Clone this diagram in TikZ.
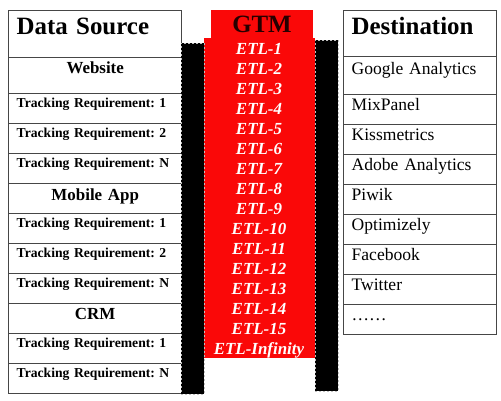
\documentclass[tikz,border=0pt]{standalone}
\usepackage{fontspec}
\setmainfont{Liberation Serif}
\frenchspacing
\usetikzlibrary{matrix,positioning}
\definecolor{gtmred}{RGB}{250,8,8}
\definecolor{gridgray}{RGB}{70,70,70}
\tikzset{table matrix/.style={
    matrix of nodes,
    inner sep=0pt,
    row sep=-1bp,
    nodes={draw=gridgray, line width=1bp,
      anchor=center,
      text width=#1,
      align=left,
      inner xsep=8bp, inner ysep=0pt
    },
  },
  table matrix/.default=157bp,
  head/.style={font=\fontsize{25}{30}\selectfont\bfseries,
    text height=23.5bp, text depth=23.5bp},
  group/.style={font=\fontsize{17}{20}\selectfont\bfseries, align=center,
    text height=16bp, text depth=14bp},
  req/.style={font=\fontsize{13.7}{16}\selectfont\bfseries,
    text height=13.5bp, text depth=16.5bp},
  tool/.style={font=\fontsize{17.6}{20}\selectfont,
    text height=16bp, text depth=14bp},
  pipe/.style={fill=black, draw=white!75!black, dash pattern=on 2bp off 2bp,
    line width=0.7bp, anchor=north west, minimum width=23bp,
    minimum height=351bp, inner sep=0pt},
  etl/.style={anchor=base, text=white, inner sep=0pt,
    font=\fontsize{17}{20}\selectfont\bfseries\itshape}
}

\begin{document}
\begin{tikzpicture}[x=1bp,y=-1bp]
    \useasboundingbox (0,0) rectangle (501,400);
    % sources
    \matrix (src) [table matrix, anchor=north west] at (8,10) {
        |[head]| Data Source \\
        |[group, text depth=20bp]| Website \\
        |[req]| Tracking Requirement: 1 \\
        |[req]| Tracking Requirement: 2 \\
        |[req]| Tracking Requirement: N \\
        |[group, text height=16.5bp, text depth=13.5bp]| Mobile App \\
        |[req]| Tracking Requirement: 1 \\
        |[req]| Tracking Requirement: 2 \\
        |[req]| Tracking Requirement: N \\
        |[group]| CRM \\
        |[req]| Tracking Requirement: 1 \\
        |[req]| Tracking Requirement: N \\
    };
    % destinations
    \matrix (dst) [table matrix=137bp, anchor=north west] at (343,10) {
        |[head, text depth=22.5bp]| Destination \\
        |[tool, text height=18bp, text depth=20bp]| Google Analytics \\
        |[tool]| MixPanel \\
        |[tool]| Kissmetrics \\
        |[tool]| Adobe Analytics \\
        |[tool]| Piwik \\
        |[tool]| Optimizely \\
        |[tool]| Facebook \\
        |[tool]| Twitter \\
        |[tool]| …… \\
    };
    % tag manager
    \node (gtm) [fill=gtmred, anchor=north, minimum width=102bp, minimum height=28bp,
        inner sep=0pt, font=\fontsize{25}{30}\selectfont\bfseries, text=black!85!red]
        at (262,10) {GTM};
    \node (etlbox) [fill=gtmred, anchor=north west, minimum width=111bp,
        minimum height=320bp, inner sep=0pt] at (204,38) {};
    \foreach \i in {1,...,15}
        \node[etl] (etl-\i) at (259,{34+20*\i}) {ETL-\i};
    \node[etl] (etl-inf) at (259,354) {ETL-Infinity};
    % pipes
    \node (pipeL) [pipe] at (181,43) {};
    \node (pipeR) [pipe] at (315,40) {};
\end{tikzpicture}
\end{document}
